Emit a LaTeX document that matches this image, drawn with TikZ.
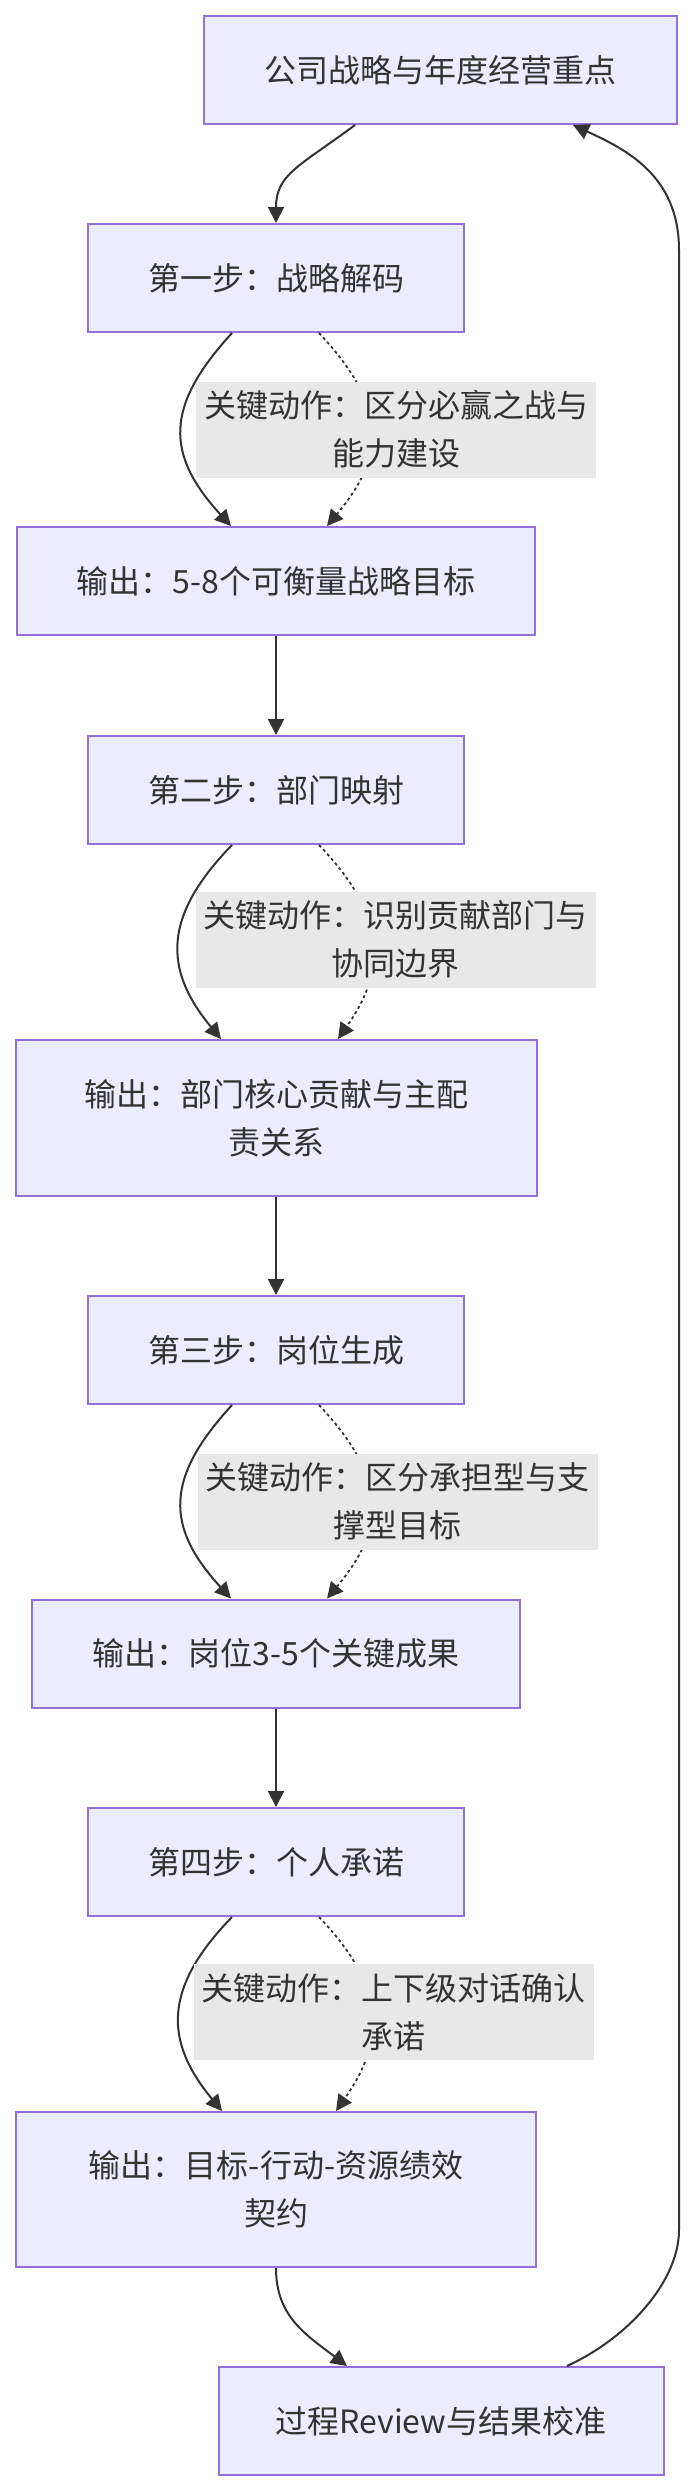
\documentclass[tikz,border=0pt]{standalone}
\usepackage{fontspec}
\newfontfamily\cjkfont{Noto Sans CJK SC}
\usetikzlibrary{arrows.meta}
\definecolor{boxfill}{HTML}{ECECFF}
\definecolor{boxline}{HTML}{9370DB}
\definecolor{lblfill}{HTML}{E8E8E8}
\definecolor{ink}{HTML}{333333}
\begin{document}
\begin{tikzpicture}[x=1pt,y=-1pt,
  box/.style={draw=boxline, fill=boxfill, line width=2pt, inner sep=0pt, align=center,
    text=ink, font=\cjkfont\fontsize{32}{48}\selectfont},
  lbl/.style={fill=lblfill, inner sep=0pt, align=center, text=ink,
    font=\cjkfont\fontsize{32}{48}\selectfont, minimum width=400pt, minimum height=96pt},
  edge/.style={draw=ink, line width=2pt, -{Triangle[length=16pt,width=16pt]}},
  dotedge/.style={edge, line width=1.8pt, dash pattern=on 3pt off 3pt}]
\useasboundingbox[fill=white] (0,0) rectangle (697,2492);

% nodes
\node[box, minimum width=473pt, minimum height=108pt] (top) at (440.5,70) {公司战略与年度经营重点};
\node[box, minimum width=376pt, minimum height=108pt] (s1) at (276,278) {第一步：战略解码};
\node[box, minimum width=518pt, minimum height=108pt] (o1) at (276,581) {输出：5-8个可衡量战略目标};
\node[box, minimum width=376pt, minimum height=108pt] (s2) at (276,790) {第二步：部门映射};
\node[box, minimum width=521pt, minimum height=156pt] (o2) at (276,1118) {输出：部门核心贡献与主配\\责关系};
\node[box, minimum width=376pt, minimum height=108pt] (s3) at (276,1350) {第三步：岗位生成};
\node[box, minimum width=488pt, minimum height=108pt] (o3) at (276,1653.5) {输出：岗位3-5个关键成果};
\node[box, minimum width=376pt, minimum height=108pt] (s4) at (276,1862) {第四步：个人承诺};
\node[box, minimum width=520pt, minimum height=155pt] (o4) at (276,2189.5) {输出：目标-行动-资源绩效\\契约};
\node[box, minimum width=445pt, minimum height=108pt] (fin) at (441,2421) {过程Review与结果校准};

\coordinate (railB) at (679,2230);
\coordinate (railT) at (679,250);

% edges
\draw[edge] ([xshift=-85.5pt]top.south) .. controls +(-55,41) and +(0,-49) .. (s1.north);

\draw[edge] ([xshift=-44pt]s1.south) .. controls +(-67,73) and +(-66,-72) .. ([xshift=-45pt]o1.north);
\draw[dotedge] ([xshift=43pt]s1.south) .. controls +(68,73) and +(60,-72) .. ([xshift=51pt]o1.north);

\draw[edge] (o1.south) -- (s2.north);

\draw[edge] ([xshift=-44pt]s2.south) .. controls +(-69,71) and +(-58,-70) .. ([xshift=-55pt]o2.north);
\draw[dotedge] ([xshift=43pt]s2.south) .. controls +(68,71) and +(49,-70) .. ([xshift=62pt]o2.north);

\draw[edge] (o2.south) -- (s3.north);

\draw[edge] ([xshift=-44pt]s3.south) .. controls +(-67,73) and +(-66,-72) .. ([xshift=-45pt]o3.north);
\draw[dotedge] ([xshift=43pt]s3.south) .. controls +(68,73) and +(60,-72) .. ([xshift=51pt]o3.north);

\draw[edge] (o3.south) -- (s4.north);

\draw[edge] ([xshift=-44pt]s4.south) .. controls +(-69,71) and +(-58,-70) .. ([xshift=-54pt]o4.north);
\draw[dotedge] ([xshift=43pt]s4.south) .. controls +(68,71) and +(49,-70) .. ([xshift=60pt]o4.north);

\draw[edge] (o4.south) .. controls +(0,48) and +(-42,-32) .. ([xshift=-94pt]fin.north);

\draw[edge] ([xshift=126pt]fin.north) .. controls +(63,-29) and +(0,50) .. (railB)
  -- (railT) .. controls +(0,-75) and +(52,24) .. ([xshift=132.5pt]top.south);

% edge labels
\node[lbl] (l1) at (396,429.5) {关键动作：区分必赢之战与\\能力建设};
\node[lbl] (l2) at (395.5,939.5) {关键动作：识别贡献部门与\\协同边界};
\node[lbl] (l3) at (397.5,1501.5) {关键动作：区分承担型与支\\撑型目标};
\node[lbl] (l4) at (393.5,2012) {关键动作：上下级对话确认\\承诺};
\end{tikzpicture}
\end{document}
